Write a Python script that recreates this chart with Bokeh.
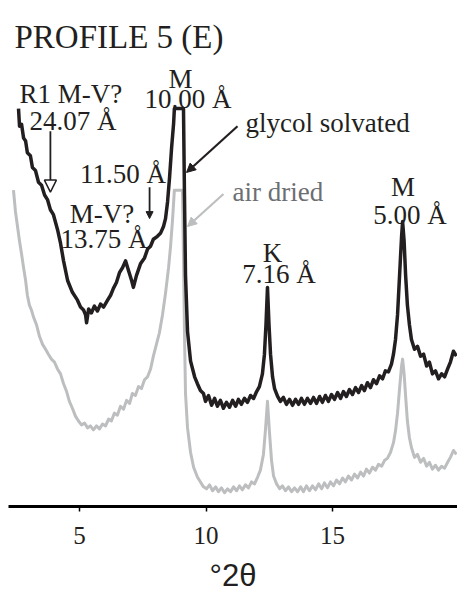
from bokeh.plotting import figure
from bokeh.models import Range1d, FixedTicker, Label, Arrow, NormalHead
from bokeh.embed import file_html
from bokeh.resources import INLINE

# ---- data: degrees 2-theta vs intensity (a.u.) ----
gly_x = [2.59, 2.63, 2.71, 2.79, 2.87, 2.94, 3.06, 3.14, 3.26, 3.38, 3.50, 3.62, 3.74, 3.85,
         3.97, 4.13, 4.25, 4.37, 4.53, 4.72, 4.92, 5.04, 5.16, 5.24, 5.28, 5.36, 5.47, 5.59,
         5.71, 5.83, 5.95, 6.11, 6.23, 6.34, 6.46, 6.58, 6.70, 6.82, 6.94, 7.06, 7.13, 7.25,
         7.41, 7.57, 7.69, 7.81, 7.92, 8.08, 8.20, 8.32, 8.40, 8.48, 8.56, 8.64, 8.72, 8.75,
         9.11, 9.15, 9.19, 9.27, 9.39, 9.55, 9.66, 9.78, 9.90,
         9.98, 10.10, 10.22, 10.34, 10.45, 10.57, 10.69, 10.81, 10.93, 11.05, 11.17, 11.28,
         11.40, 11.52, 11.64, 11.76, 11.88, 12.00, 12.11, 12.23, 12.31, 12.37, 12.43, 12.49,
         12.55, 12.63, 12.71, 12.83, 12.94, 13.06, 13.18, 13.30, 13.42, 13.54, 13.66, 13.77,
         13.89, 14.01, 14.13, 14.25, 14.37, 14.49, 14.60, 14.72, 14.84, 14.96, 15.08, 15.20,
         15.32, 15.43, 15.55, 15.67, 15.79, 15.91, 16.03, 16.15, 16.26, 16.38, 16.50, 16.62,
         16.74, 16.86, 16.98, 17.09, 17.21, 17.33, 17.41, 17.49, 17.57, 17.65, 17.73, 17.77,
         17.83, 17.89, 17.96, 18.04, 18.12, 18.24, 18.36, 18.48, 18.60, 18.72, 18.83, 18.95,
         19.07, 19.19, 19.31, 19.43, 19.55, 19.66, 19.78, 19.90]
gly_y = [405, 387, 389, 375, 372, 360, 357, 345, 342, 330, 327, 317, 312, 302,
         297, 282, 268, 250, 230, 218, 210, 203, 200, 195, 187, 201, 197, 204,
         199, 206, 203, 210, 215, 222, 228, 238, 243, 250, 240, 230, 223, 235,
         247, 253, 262, 265, 272, 275, 278, 285, 293, 310, 335, 365, 390, 405,
         405, 315, 235, 178, 148, 132, 125, 118, 115,
         107, 113, 103, 110, 102, 108, 100, 106, 101, 108, 102, 109,
         104, 110, 106, 113, 110, 117, 122, 135, 155, 185, 223, 185,
         155, 132, 120, 112, 107, 111, 104, 109, 103, 109, 104, 110,
         104, 110, 105, 111, 105, 112, 106, 113, 107, 114, 109, 116,
         110, 117, 112, 119, 114, 121, 116, 123, 118, 126, 121, 129,
         125, 133, 130, 138, 137, 145, 155, 170, 195, 235, 275, 290,
         270, 235, 205, 185, 170, 160, 163, 153, 155, 143, 147, 135,
         138, 130, 135, 132, 140, 147, 158, 153]

air_x = [2.39, 2.47, 2.55, 2.63, 2.71, 2.79, 2.87, 2.94, 3.02, 3.10, 3.18, 3.30, 3.42, 3.54,
         3.66, 3.77, 3.89, 4.01, 4.13, 4.25, 4.37, 4.49, 4.60, 4.72, 4.84, 4.96, 5.08, 5.20,
         5.32, 5.43, 5.55, 5.67, 5.79, 5.91, 6.03, 6.15, 6.26, 6.38, 6.50, 6.62, 6.74, 6.86,
         6.98, 7.09, 7.21, 7.33, 7.45, 7.57, 7.69, 7.81, 7.92, 8.04, 8.16, 8.28, 8.40, 8.52,
         8.60, 8.68, 8.75, 9.07, 9.11, 9.15, 9.19, 9.27, 9.39, 9.51, 9.66, 9.78, 9.90,
         10.02, 10.14, 10.26, 10.38, 10.49, 10.61, 10.73, 10.85, 10.97, 11.09, 11.21, 11.32,
         11.44, 11.56, 11.68, 11.80, 11.92, 12.04, 12.15, 12.27, 12.35, 12.43, 12.51, 12.59,
         12.67, 12.79, 12.91, 13.02, 13.14, 13.26, 13.38, 13.50, 13.62, 13.74, 13.85, 13.97,
         14.09, 14.21, 14.33, 14.45, 14.57, 14.68, 14.80, 14.92, 15.04, 15.16, 15.28, 15.40,
         15.51, 15.63, 15.75, 15.87, 15.99, 16.11, 16.23, 16.34, 16.46, 16.58, 16.70, 16.82,
         16.94, 17.06, 17.17, 17.29, 17.41, 17.49, 17.57, 17.65, 17.73, 17.77, 17.83, 17.89,
         17.96, 18.04, 18.12, 18.24, 18.36, 18.48, 18.60, 18.72, 18.83, 18.95, 19.07, 19.19,
         19.31, 19.43, 19.55, 19.66, 19.78, 19.90]
air_y = [322, 300, 285, 270, 257, 243, 230, 215, 205, 200, 193, 185, 173, 165,
         160, 155, 150, 147, 140, 135, 125, 117, 107, 100, 92, 87, 83, 85,
         80, 82, 78, 82, 79, 84, 82, 89, 87, 95, 93, 102, 99, 108,
         105, 115, 113, 122, 120, 129, 132, 140, 153, 165, 177, 195, 217, 243,
         265, 293, 322, 322, 255, 175, 115, 80, 55, 40, 30, 25, 20,
         18, 22, 16, 20, 15, 19, 14, 18, 15, 20, 16, 21,
         17, 22, 19, 25, 23, 30, 37, 53, 78, 107, 75, 47,
         31, 23, 18, 21, 16, 20, 15, 19, 15, 20, 15, 21,
         16, 21, 17, 23, 18, 24, 19, 25, 21, 27, 23, 29,
         25, 31, 27, 33, 29, 35, 31, 38, 34, 40, 37, 43,
         41, 47, 49, 55, 65, 77, 95, 120, 143, 150, 135, 112,
         87, 70, 60, 50, 53, 45, 49, 41, 45, 38, 42, 37,
         41, 39, 45, 50, 57, 53]

x_ticks = [5, 10, 15]

BLACK = "#231f20"
GREY = "#bcbec0"
SERIF = "Liberation Serif"

p = figure(width=457, height=595, output_backend="svg", toolbar_location=None,
           x_range=Range1d(2.194, 19.94), y_range=Range1d(0, 515),
           y_axis_location=None,
           min_border_left=8, min_border_right=0, min_border_top=0, min_border_bottom=80)
p.outline_line_color = None
p.grid.visible = False
p.background_fill_color = "white"

p.line(air_x, air_y, line_color=GREY, line_width=3, line_join="round")
p.line(gly_x, gly_y, line_color=BLACK, line_width=3.5, line_join="round")

ax = p.xaxis[0]
ax.ticker = FixedTicker(ticks=x_ticks)
ax.axis_line_width = 3
ax.axis_line_color = "black"
ax.major_tick_line_width = 1.5
ax.major_tick_line_color = "black"
ax.major_tick_out = 5
ax.major_tick_in = 0
ax.minor_tick_line_color = None
ax.major_label_text_font = SERIF
ax.major_label_text_font_size = "25px"
ax.major_label_text_color = BLACK
ax.major_label_standoff = 15
ax.axis_label = "°2θ"
ax.axis_label_text_font = "Liberation Sans"
ax.axis_label_text_font_size = "31px"
ax.axis_label_text_font_style = "normal"
ax.axis_label_text_color = BLACK
ax.axis_label_standoff = 11

def lab(x, y, text, size="27px", align="center", color=BLACK, font=SERIF):
    p.add_layout(Label(x=x, y=y, text=text, text_font=font, text_font_size=size,
                       text_align=align, text_baseline="alphabetic", text_color=color))

lab(2.43, 478, "PROFILE 5 (E)", size="33px", align="left")
lab(4.66, 420, "R1 M-V?")
lab(4.74, 392, "24.07 Å")
lab(6.72, 338, "11.50 Å")
lab(5.89, 298, "M-V?")
lab(5.97, 272, "13.75 Å")
lab(8.99, 435, "M")
lab(9.29, 415, "10.00 Å")
lab(11.56, 390, "glycol solvated", align="left")
lab(11.05, 320, "air dried", align="left", color="#6d6e71")
lab(12.63, 258, "K")
lab(12.885, 237, "7.16 Å")
lab(17.79, 325, "M")
lab(18.06, 297, "5.00 Å")

p.add_layout(Arrow(x_start=3.85, y_start=382, x_end=3.85, y_end=320, line_width=1.8,
                   line_color=BLACK,
                   end=NormalHead(size=12, fill_color="white", line_color=BLACK, line_width=1.5)))
p.add_layout(Arrow(x_start=7.77, y_start=325, x_end=7.77, y_end=293, line_width=1.8,
                   line_color=BLACK,
                   end=NormalHead(size=7, fill_color=BLACK, line_color=BLACK, line_width=1)))
p.add_layout(Arrow(x_start=11.245, y_start=387, x_end=9.23, y_end=340, line_width=2.2,
                   line_color=BLACK,
                   end=NormalHead(size=9, fill_color=BLACK, line_color=BLACK, line_width=1)))
p.add_layout(Arrow(x_start=10.69, y_start=318, x_end=9.27, y_end=285, line_width=2.2,
                   line_color=GREY,
                   end=NormalHead(size=9, fill_color=GREY, line_color=GREY, line_width=1)))

open("out.html", "w").write(file_html(p, INLINE))
